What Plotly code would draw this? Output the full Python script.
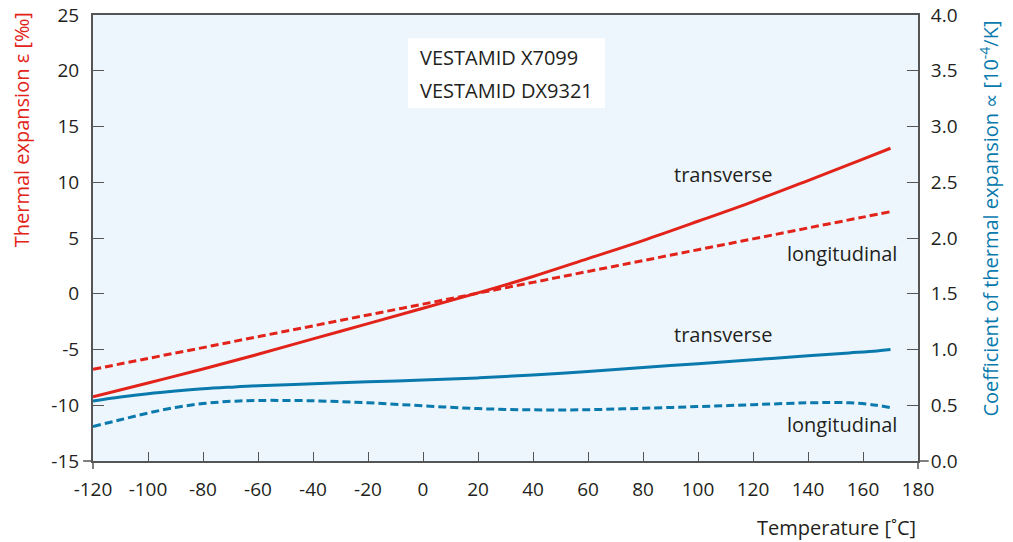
import plotly.graph_objects as go

# Temperature grid [°C]
temperature = [-120, -100, -80, -60, -40, -20, 0, 20, 40, 60, 80, 100, 120, 140, 160, 170]

# Thermal expansion ε [‰] (left axis)
eps_transverse = [-9.25, -8.0, -6.75, -5.43, -4.05, -2.68, -1.3, 0.08, 1.55, 3.15, 4.77, 6.5, 8.27, 10.15, 12.07, 13.05]
eps_longitudinal = [-6.78, -5.8, -4.83, -3.85, -2.88, -1.9, -0.93, 0.05, 1.02, 2.0, 2.97, 3.95, 4.92, 5.9, 6.87, 7.36]

# Coefficient of thermal expansion α [1e-4/K] (right axis)
alpha_temperature = [-120, -110, -100, -90, -80, -70, -60, -40, -20, 0, 20, 40, 60, 80, 100, 120, 140, 155, 165, 170]
alpha_transverse = [0.538, 0.573, 0.603, 0.627, 0.647, 0.662, 0.675, 0.692, 0.71, 0.726, 0.745, 0.772, 0.803, 0.838, 0.873, 0.908, 0.943, 0.969, 0.987, 1.0]
alpha_longitudinal = [0.31, 0.37, 0.43, 0.48, 0.515, 0.535, 0.543, 0.54, 0.522, 0.495, 0.47, 0.459, 0.46, 0.473, 0.488, 0.505, 0.522, 0.522, 0.5, 0.478]

x_ticks = list(range(-120, 181, 20))
y_ticks = list(range(-15, 26, 5))
y2_ticks = [0.0, 0.5, 1.0, 1.5, 2.0, 2.5, 3.0, 3.5, 4.0]

RED = "#e2231a"
BLUE = "#0a7aad"
TXT = "#231f20"
AX = "#555555"
FONT = "Open Sans"

fig = go.Figure()
fig.add_trace(go.Scatter(x=temperature, y=eps_longitudinal, mode="lines",
                         line=dict(color=RED, width=3, dash="8px,4px", shape="spline"), yaxis="y"))
fig.add_trace(go.Scatter(x=temperature, y=eps_transverse, mode="lines",
                         line=dict(color=RED, width=3, shape="spline"), yaxis="y"))
fig.add_trace(go.Scatter(x=alpha_temperature, y=alpha_longitudinal, mode="lines",
                         line=dict(color=BLUE, width=3, dash="8px,4px", shape="spline", smoothing=1), yaxis="y2"))
fig.add_trace(go.Scatter(x=alpha_temperature, y=alpha_transverse, mode="lines",
                         line=dict(color=BLUE, width=3, shape="spline", smoothing=1), yaxis="y2"))

fig.update_layout(
    width=1013, height=542,
    margin=dict(l=93, r=95, t=15, b=81, autoexpand=False),
    paper_bgcolor="white",
    plot_bgcolor="#eef6fd",
    showlegend=False,
    font=dict(family=FONT, size=19, color=TXT),
    xaxis=dict(range=[-120, 180], tickvals=x_ticks, ticktext=[str(v) for v in x_ticks],
               showgrid=False, zeroline=False, showline=True, mirror=True, linecolor=AX, linewidth=2,
               ticks="inside", ticklen=9, tickwidth=1.3, tickcolor=AX, ticklabelstandoff=10,
               tickfont=dict(size=19), automargin=False),
    yaxis=dict(range=[-15, 25], tickvals=y_ticks, ticktext=[str(v) for v in y_ticks],
               showgrid=False, zeroline=False, showline=True, linecolor=AX, linewidth=2,
               ticks="inside", ticklen=11, tickwidth=1.3, tickcolor=AX, ticklabelstandoff=8,
               tickfont=dict(size=19), automargin=False),
    yaxis2=dict(range=[0, 4], overlaying="y", side="right", tickvals=y2_ticks,
                ticktext=[f"{v:.1f}" for v in y2_ticks],
                showgrid=False, zeroline=False, showline=True, linecolor=AX, linewidth=2,
                ticks="inside", ticklen=11, tickwidth=1.3, tickcolor=AX, ticklabelstandoff=7,
                tickfont=dict(size=19), automargin=False),
)

# Axis overhangs at the corners
for x0, x1, y0, y1 in [(-0.012, 0.0, 0.0, 0.0), (1.0, 1.013, 0.0, 0.0),
                       (0.0, 0.0, -0.018, 0.0), (1.0, 1.0, -0.018, 0.0)]:
    fig.add_shape(type="line", xref="paper", yref="paper", x0=x0, x1=x1, y0=y0, y1=y1,
                  line=dict(color=AX, width=1.5))

# Legend box
fig.add_shape(type="rect", xref="paper", yref="paper", x0=0.3818, x1=0.6206, y0=0.7915, y1=0.948,
              fillcolor="white", line=dict(width=0), layer="below")
fig.add_annotation(xref="paper", yref="paper", x=0.394, y=0.9036, xanchor="left", yanchor="middle",
                   text="VESTAMID X7099", showarrow=False, font=dict(size=20))
fig.add_annotation(xref="paper", yref="paper", x=0.394, y=0.8318, xanchor="left", yanchor="middle",
                   text="VESTAMID DX9321", showarrow=False, font=dict(size=20))

# Curve labels
for x, y, t in [(109, 10.74, "transverse"), (152.4, 3.57, "longitudinal"),
                (109, -3.61, "transverse"), (152.4, -11.77, "longitudinal")]:
    fig.add_annotation(x=x, y=y, xref="x", yref="y", text=t, showarrow=False, font=dict(size=20))

# Axis titles
fig.add_annotation(xref="paper", yref="paper", x=1.0, y=-0.15, xanchor="right", yanchor="middle",
                   text="Temperature [˚C]", showarrow=False, font=dict(size=20))
fig.add_annotation(xref="paper", yref="paper", x=-0.087, y=0.742, xanchor="center", yanchor="middle",
                   text="Thermal expansion ε [‰]", textangle=-90, showarrow=False,
                   font=dict(color=RED, size=20))
fig.add_annotation(xref="paper", yref="paper", x=1.087, y=0.543, xanchor="center", yanchor="middle",
                   text="Coefficient of thermal expansion ∝ [10<sup>-4</sup>/K]", textangle=-90,
                   showarrow=False, font=dict(color=BLUE, size=20))

fig.write_html("out.html")
